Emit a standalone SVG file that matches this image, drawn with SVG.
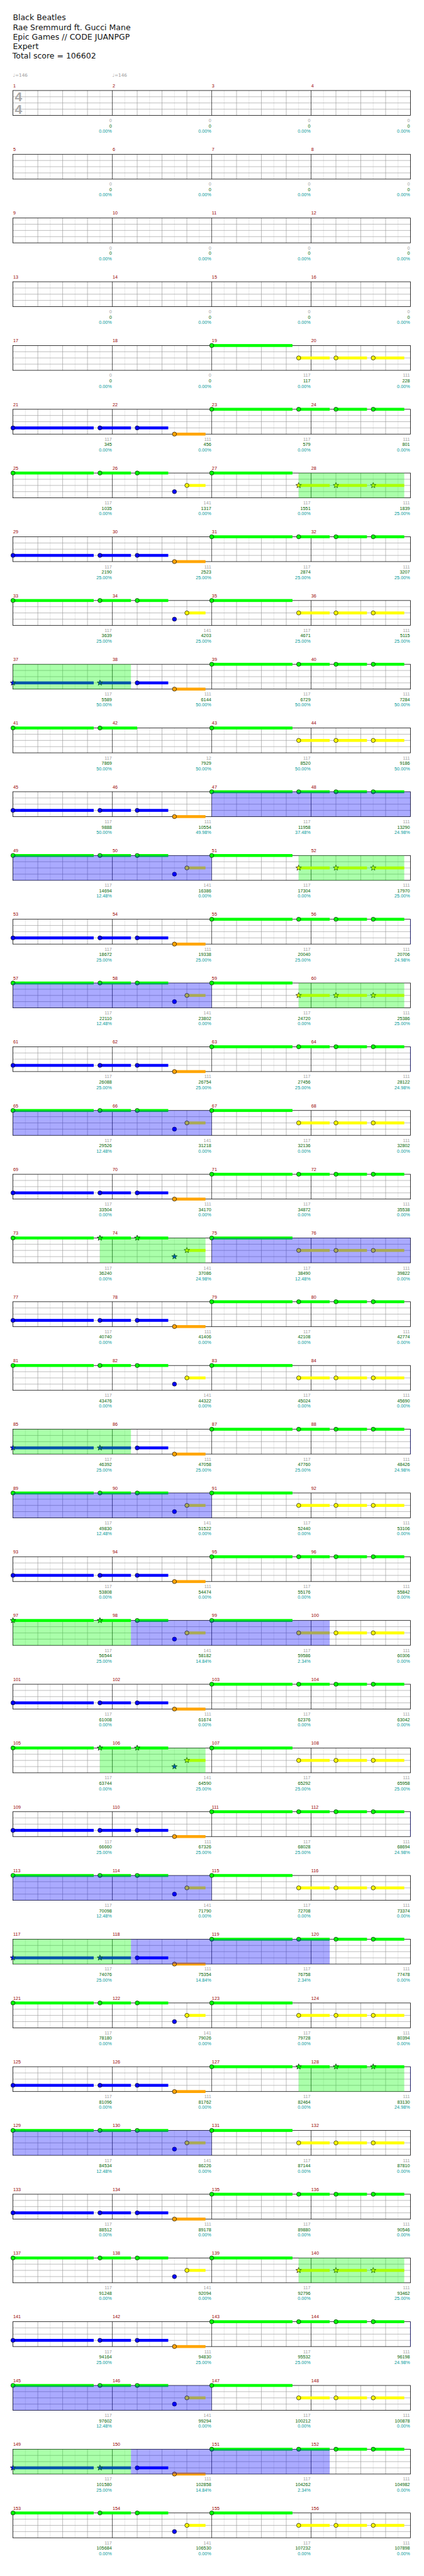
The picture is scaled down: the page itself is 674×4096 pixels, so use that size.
<svg xmlns="http://www.w3.org/2000/svg" width="674" height="4096" viewBox="0 0 674 4096">
<style>
text{font-family:"Liberation Sans",Arial,sans-serif}
.hd{font-family:"DejaVu Sans",Verdana,sans-serif;font-size:19px;fill:#111}
.mn{font-size:11px;fill:#990000}
.tp{font-family:"DejaVu Sans",sans-serif;font-size:11px;fill:#999}
.s1,.s2,.s3{font-size:11px;text-anchor:end}
.s1{fill:#a0a0a0}.s2{fill:#006400}.s3{fill:#009999}
.ts{font-size:32px;font-weight:bold;fill:#aaa}
.off{stroke:#ddd;stroke-width:1;fill:none}
.bt{stroke:#999;stroke-width:1;fill:none}
.br{stroke:#000;stroke-width:1;fill:none}
.box{fill:none;stroke:#000;stroke-width:1.2}
.g{fill:#00ff00}.y{fill:#ffff00}.b{fill:#0000ff}.o{fill:#ffa500}
circle,.st{stroke:#000;stroke-width:1}
.sp{fill:#00ff00;fill-opacity:.333}
.act{fill:#0000ff;fill-opacity:.333}
</style>
<defs>
<path id="star" d="M0,-7L1.76,-2.43L6.66,-2.16L2.85,0.93L4.11,5.66L0,3L-4.11,5.66L-2.85,0.93L-6.66,-2.16L-1.76,-2.43Z"/>
<g id="staff">
<path class="off" d="M30,0v60M90,0v60M150,0v60M210,0v60M270,0v60M330,0v60M390,0v60M450,0v60M510,0v60M570,0v60M630,0v60M690,0v60M750,0v60M810,0v60M870,0v60M930,0v60"/>
<path class="bt" d="M0,15h960M0,30h960M0,45h960M60,0v60M120,0v60M180,0v60M300,0v60M360,0v60M420,0v60M540,0v60M600,0v60M660,0v60M780,0v60M840,0v60M900,0v60"/>
<path class="br" d="M240,0v60M480,0v60M720,0v60"/>
<rect class="box" x="0" y="0" width="960" height="60"/>
</g>
<g id="zeros">
<text class="s1"><tspan x="238.7" y="76">0</tspan><tspan x="478.7">0</tspan><tspan x="718.7">0</tspan><tspan x="958.7">0</tspan></text>
<text class="s2"><tspan x="238.7" y="89">0</tspan><tspan x="478.7">0</tspan><tspan x="718.7">0</tspan><tspan x="958.7">0</tspan></text>
<text class="s3"><tspan x="238.7" y="102">0.00%</tspan><tspan x="478.7">0.00%</tspan><tspan x="718.7">0.00%</tspan><tspan x="958.7">0.00%</tspan></text>
</g>
<text id="gA" class="s1"><tspan x="238.7" y="76">117</tspan><tspan x="478.7">141</tspan><tspan x="718.7">117</tspan><tspan x="958.7">111</tspan></text>
<text id="gB" class="s1"><tspan x="238.7" y="76">117</tspan><tspan x="478.7">111</tspan><tspan x="718.7">117</tspan><tspan x="958.7">111</tspan></text>
<text id="pz" class="s3"><tspan x="238.7" y="102">0.00%</tspan><tspan x="478.7">0.00%</tspan><tspan x="718.7">0.00%</tspan><tspan x="958.7">0.00%</tspan></text>
<g id="pGGGG"><rect class="g" y="-3.5" width="195" height="7"/><circle class="g" r="5"/><rect class="g" x="210" y="-3.5" width="75" height="7"/><circle class="g" cx="210" r="5"/><rect class="g" x="300" y="-3.5" width="75" height="7"/><circle class="g" cx="300" r="5"/><rect class="g" x="390" y="-3.5" width="75" height="7"/><circle class="g" cx="390" r="5"/></g>
<g id="pGGGGs"><rect class="g" y="-3.5" width="195" height="7"/><circle class="g" r="5"/><rect class="g" x="210" y="-3.5" width="75" height="7"/><use href="#star" class="g st" x="210"/><rect class="g" x="300" y="-3.5" width="75" height="7"/><use href="#star" class="g st" x="300"/><rect class="g" x="390" y="-3.5" width="75" height="7"/><use href="#star" class="g st" x="390"/></g>
<g id="pGYYY"><rect class="g" y="-3.5" width="195" height="7"/><circle class="g" r="5"/><rect class="y" x="210" y="26.5" width="75" height="7"/><circle class="y" cx="210" cy="30" r="5"/><rect class="y" x="300" y="26.5" width="75" height="7"/><circle class="y" cx="300" cy="30" r="5"/><rect class="y" x="390" y="26.5" width="75" height="7"/><circle class="y" cx="390" cy="30" r="5"/></g>
<g id="pBBBO"><rect class="b" y="41.5" width="195" height="7"/><circle class="b" cy="45" r="5"/><rect class="b" x="210" y="41.5" width="75" height="7"/><circle class="b" cx="210" cy="45" r="5"/><rect class="b" x="300" y="41.5" width="75" height="7"/><circle class="b" cx="300" cy="45" r="5"/><rect class="o" x="390" y="56.5" width="75" height="7"/><circle class="o" cx="390" cy="60" r="5"/></g>
<g id="pGGGBY"><rect class="g" y="-3.5" width="195" height="7"/><circle class="g" r="5"/><rect class="g" x="210" y="-3.5" width="75" height="7"/><circle class="g" cx="210" r="5"/><rect class="g" x="300" y="-3.5" width="75" height="7"/><circle class="g" cx="300" r="5"/><circle class="b" cx="390" cy="45" r="5"/><rect class="y" x="420" y="26.5" width="45" height="7"/><circle class="y" cx="420" cy="30" r="5"/></g>
<g id="pGGGBYs2"><rect class="g" y="-3.5" width="195" height="7"/><use href="#star" class="g st"/><rect class="g" x="210" y="-3.5" width="75" height="7"/><use href="#star" class="g st" x="210"/><rect class="g" x="300" y="-3.5" width="75" height="7"/><circle class="g" cx="300" r="5"/><circle class="b" cx="390" cy="45" r="5"/><rect class="y" x="420" y="26.5" width="45" height="7"/><circle class="y" cx="420" cy="30" r="5"/></g>
<g id="pGYYYs"><rect class="g" y="-3.5" width="195" height="7"/><circle class="g" r="5"/><rect class="y" x="210" y="26.5" width="75" height="7"/><use href="#star" class="y st" x="210" y="30"/><rect class="y" x="300" y="26.5" width="75" height="7"/><use href="#star" class="y st" x="300" y="30"/><rect class="y" x="390" y="26.5" width="75" height="7"/><use href="#star" class="y st" x="390" y="30"/></g>
<g id="pBBBOs"><rect class="b" y="41.5" width="195" height="7"/><use href="#star" class="b st" y="45"/><rect class="b" x="210" y="41.5" width="75" height="7"/><use href="#star" class="b st" x="210" y="45"/><rect class="b" x="300" y="41.5" width="75" height="7"/><circle class="b" cx="300" cy="45" r="5"/><rect class="o" x="390" y="56.5" width="75" height="7"/><circle class="o" cx="390" cy="60" r="5"/></g>
<g id="pGG"><rect class="g" y="-3.5" width="195" height="7"/><circle class="g" r="5"/><rect class="g" x="210" y="-3.5" width="90" height="7"/><circle class="g" cx="210" r="5"/></g>
<g id="pGGGBYs"><rect class="g" y="-3.5" width="195" height="7"/><circle class="g" r="5"/><rect class="g" x="210" y="-3.5" width="75" height="7"/><use href="#star" class="g st" x="210"/><rect class="g" x="300" y="-3.5" width="75" height="7"/><use href="#star" class="g st" x="300"/><use href="#star" class="b st" x="390" y="45"/><rect class="y" x="420" y="26.5" width="45" height="7"/><use href="#star" class="y st" x="420" y="30"/></g>
</defs>
<g transform="scale(0.658203)">
<g id="header">
<text class="hd" x="31" y="49.3">Black Beatles</text>
<text class="hd" x="31" y="72.3">Rae Sremmurd ft.  Gucci Mane</text>
<text class="hd" x="31" y="95.3">Epic Games // CODE JUANPGP</text>
<text class="hd" x="31" y="118.3">Expert</text>
<text class="hd" x="30" y="141.3">Total score = 106602</text>
</g>
<g id="row1" transform="translate(31.3,218.7)"><use href="#staff"/>
<text class="ts" x="4.4" y="26.3">4</text><text class="ts" x="4.4" y="56.3">4</text>
<text class="tp"><tspan x="0" y="-33.5">♩=146</tspan><tspan x="240">♩=146</tspan></text>
<text class="mn"><tspan x="0.5" y="-8">1</tspan><tspan x="240.5">2</tspan><tspan x="480.5">3</tspan><tspan x="720.5">4</tspan></text><use href="#zeros"/></g>
<g id="row2" transform="translate(31.3,372.7)"><use href="#staff"/><text class="mn"><tspan x="0.5" y="-8">5</tspan><tspan x="240.5">6</tspan><tspan x="480.5">7</tspan><tspan x="720.5">8</tspan></text><use href="#zeros"/></g>
<g id="row3" transform="translate(31.3,526.7)"><use href="#staff"/><text class="mn"><tspan x="0.5" y="-8">9</tspan><tspan x="240.5">10</tspan><tspan x="480.5">11</tspan><tspan x="720.5">12</tspan></text><use href="#zeros"/></g>
<g id="row4" transform="translate(31.3,680.7)"><use href="#staff"/><text class="mn"><tspan x="0.5" y="-8">13</tspan><tspan x="240.5">14</tspan><tspan x="480.5">15</tspan><tspan x="720.5">16</tspan></text><use href="#zeros"/></g>
<g id="row5" transform="translate(31.3,834.7)"><use href="#staff"/><use href="#pGYYY" x="480"/>
<text class="mn"><tspan x="0.5" y="-8">17</tspan><tspan x="240.5">18</tspan><tspan x="480.5">19</tspan><tspan x="720.5">20</tspan></text>
<text class="s1"><tspan x="238.7" y="76">0</tspan><tspan x="478.7">0</tspan><tspan x="718.7">117</tspan><tspan x="958.7">111</tspan></text>
<text class="s2"><tspan x="238.7" y="89">0</tspan><tspan x="478.7">0</tspan><tspan x="718.7">117</tspan><tspan x="958.7">228</tspan></text>
<use href="#pz"/></g>
<g id="row6" transform="translate(31.3,988.7)"><use href="#staff"/><use href="#pBBBO"/><use href="#pGGGG" x="480"/>
<text class="mn"><tspan x="0.5" y="-8">21</tspan><tspan x="240.5">22</tspan><tspan x="480.5">23</tspan><tspan x="720.5">24</tspan></text><use href="#gB"/>
<text class="s2"><tspan x="238.7" y="89">345</tspan><tspan x="478.7">456</tspan><tspan x="718.7">579</tspan><tspan x="958.7">801</tspan></text><use href="#pz"/></g>
<g id="row7" transform="translate(31.3,1142.7)"><use href="#staff"/><use href="#pGGGBY"/><use href="#pGYYYs" x="480"/><rect class="sp" x="690" width="255" height="60"/>
<text class="mn"><tspan x="0.5" y="-8">25</tspan><tspan x="240.5">26</tspan><tspan x="480.5">27</tspan><tspan x="720.5">28</tspan></text><use href="#gA"/>
<text class="s2"><tspan x="238.7" y="89">1035</tspan><tspan x="478.7">1317</tspan><tspan x="718.7">1551</tspan><tspan x="958.7">1839</tspan></text>
<text class="s3"><tspan x="238.7" y="102">0.00%</tspan><tspan x="478.7">0.00%</tspan><tspan x="718.7">0.00%</tspan><tspan x="958.7">25.00%</tspan></text></g>
<g id="row8" transform="translate(31.3,1296.7)"><use href="#staff"/><use href="#pBBBO"/><use href="#pGGGG" x="480"/>
<text class="mn"><tspan x="0.5" y="-8">29</tspan><tspan x="240.5">30</tspan><tspan x="480.5">31</tspan><tspan x="720.5">32</tspan></text><use href="#gB"/>
<text class="s2"><tspan x="238.7" y="89">2190</tspan><tspan x="478.7">2523</tspan><tspan x="718.7">2874</tspan><tspan x="958.7">3207</tspan></text>
<text class="s3"><tspan x="238.7" y="102">25.00%</tspan><tspan x="478.7">25.00%</tspan><tspan x="718.7">25.00%</tspan><tspan x="958.7">25.00%</tspan></text></g>
<g id="row9" transform="translate(31.3,1450.7)"><use href="#staff"/><use href="#pGGGBY"/><use href="#pGYYY" x="480"/>
<text class="mn"><tspan x="0.5" y="-8">33</tspan><tspan x="240.5">34</tspan><tspan x="480.5">35</tspan><tspan x="720.5">36</tspan></text><use href="#gA"/>
<text class="s2"><tspan x="238.7" y="89">3639</tspan><tspan x="478.7">4203</tspan><tspan x="718.7">4671</tspan><tspan x="958.7">5115</tspan></text>
<text class="s3"><tspan x="238.7" y="102">25.00%</tspan><tspan x="478.7">25.00%</tspan><tspan x="718.7">25.00%</tspan><tspan x="958.7">25.00%</tspan></text></g>
<g id="row10" transform="translate(31.3,1604.7)"><use href="#staff"/><use href="#pBBBOs"/><rect class="sp" width="285" height="60"/><use href="#pGGGG" x="480"/>
<text class="mn"><tspan x="0.5" y="-8">37</tspan><tspan x="240.5">38</tspan><tspan x="480.5">39</tspan><tspan x="720.5">40</tspan></text><use href="#gB"/>
<text class="s2"><tspan x="238.7" y="89">5589</tspan><tspan x="478.7">6144</tspan><tspan x="718.7">6729</tspan><tspan x="958.7">7284</tspan></text>
<text class="s3"><tspan x="238.7" y="102">50.00%</tspan><tspan x="478.7">50.00%</tspan><tspan x="718.7">50.00%</tspan><tspan x="958.7">50.00%</tspan></text></g>
<g id="row11" transform="translate(31.3,1758.7)"><use href="#staff"/><use href="#pGG"/><use href="#pGYYY" x="480"/>
<text class="mn"><tspan x="0.5" y="-8">41</tspan><tspan x="240.5">42</tspan><tspan x="480.5">43</tspan><tspan x="720.5">44</tspan></text>
<text class="s1"><tspan x="238.7" y="76">117</tspan><tspan x="478.7">12</tspan><tspan x="718.7">117</tspan><tspan x="958.7">111</tspan></text>
<text class="s2"><tspan x="238.7" y="89">7869</tspan><tspan x="478.7">7929</tspan><tspan x="718.7">8520</tspan><tspan x="958.7">9186</tspan></text>
<text class="s3"><tspan x="238.7" y="102">50.00%</tspan><tspan x="478.7">50.00%</tspan><tspan x="718.7">50.00%</tspan><tspan x="958.7">50.00%</tspan></text></g>
<g id="row12" transform="translate(31.3,1912.7)"><use href="#staff"/><use href="#pBBBO"/><use href="#pGGGG" x="480"/><rect class="act" x="480" width="480" height="60"/>
<text class="mn"><tspan x="0.5" y="-8">45</tspan><tspan x="240.5">46</tspan><tspan x="480.5">47</tspan><tspan x="720.5">48</tspan></text><use href="#gB"/>
<text class="s2"><tspan x="238.7" y="89">9888</tspan><tspan x="478.7">10554</tspan><tspan x="718.7">11958</tspan><tspan x="958.7">13290</tspan></text>
<text class="s3"><tspan x="238.7" y="102">50.00%</tspan><tspan x="478.7">49.98%</tspan><tspan x="718.7">37.48%</tspan><tspan x="958.7">24.98%</tspan></text></g>
<g id="row13" transform="translate(31.3,2066.7)"><use href="#staff"/><use href="#pGGGBY"/><rect class="act" width="480" height="60"/><use href="#pGYYYs" x="480"/><rect class="sp" x="690" width="255" height="60"/>
<text class="mn"><tspan x="0.5" y="-8">49</tspan><tspan x="240.5">50</tspan><tspan x="480.5">51</tspan><tspan x="720.5">52</tspan></text><use href="#gA"/>
<text class="s2"><tspan x="238.7" y="89">14694</tspan><tspan x="478.7">16386</tspan><tspan x="718.7">17304</tspan><tspan x="958.7">17970</tspan></text>
<text class="s3"><tspan x="238.7" y="102">12.48%</tspan><tspan x="478.7">0.00%</tspan><tspan x="718.7">0.00%</tspan><tspan x="958.7">25.00%</tspan></text></g>
<g id="row14" transform="translate(31.3,2220.7)"><use href="#staff"/><use href="#pBBBO"/><use href="#pGGGG" x="480"/><rect class="act" x="959" width="1.5" height="60"/>
<text class="mn"><tspan x="0.5" y="-8">53</tspan><tspan x="240.5">54</tspan><tspan x="480.5">55</tspan><tspan x="720.5">56</tspan></text><use href="#gB"/>
<text class="s2"><tspan x="238.7" y="89">18672</tspan><tspan x="478.7">19338</tspan><tspan x="718.7">20040</tspan><tspan x="958.7">20706</tspan></text>
<text class="s3"><tspan x="238.7" y="102">25.00%</tspan><tspan x="478.7">25.00%</tspan><tspan x="718.7">25.00%</tspan><tspan x="958.7">24.98%</tspan></text></g>
<g id="row15" transform="translate(31.3,2374.7)"><use href="#staff"/><use href="#pGGGBY"/><rect class="act" width="480" height="60"/><use href="#pGYYYs" x="480"/><rect class="sp" x="690" width="255" height="60"/>
<text class="mn"><tspan x="0.5" y="-8">57</tspan><tspan x="240.5">58</tspan><tspan x="480.5">59</tspan><tspan x="720.5">60</tspan></text><use href="#gA"/>
<text class="s2"><tspan x="238.7" y="89">22110</tspan><tspan x="478.7">23802</tspan><tspan x="718.7">24720</tspan><tspan x="958.7">25386</tspan></text>
<text class="s3"><tspan x="238.7" y="102">12.48%</tspan><tspan x="478.7">0.00%</tspan><tspan x="718.7">0.00%</tspan><tspan x="958.7">25.00%</tspan></text></g>
<g id="row16" transform="translate(31.3,2528.7)"><use href="#staff"/><use href="#pBBBO"/><use href="#pGGGG" x="480"/><rect class="act" x="959" width="1.5" height="60"/>
<text class="mn"><tspan x="0.5" y="-8">61</tspan><tspan x="240.5">62</tspan><tspan x="480.5">63</tspan><tspan x="720.5">64</tspan></text><use href="#gB"/>
<text class="s2"><tspan x="238.7" y="89">26088</tspan><tspan x="478.7">26754</tspan><tspan x="718.7">27456</tspan><tspan x="958.7">28122</tspan></text>
<text class="s3"><tspan x="238.7" y="102">25.00%</tspan><tspan x="478.7">25.00%</tspan><tspan x="718.7">25.00%</tspan><tspan x="958.7">24.98%</tspan></text></g>
<g id="row17" transform="translate(31.3,2682.7)"><use href="#staff"/><use href="#pGGGBY"/><rect class="act" width="480" height="60"/><use href="#pGYYY" x="480"/>
<text class="mn"><tspan x="0.5" y="-8">65</tspan><tspan x="240.5">66</tspan><tspan x="480.5">67</tspan><tspan x="720.5">68</tspan></text><use href="#gA"/>
<text class="s2"><tspan x="238.7" y="89">29526</tspan><tspan x="478.7">31218</tspan><tspan x="718.7">32136</tspan><tspan x="958.7">32802</tspan></text>
<text class="s3"><tspan x="238.7" y="102">12.48%</tspan><tspan x="478.7">0.00%</tspan><tspan x="718.7">0.00%</tspan><tspan x="958.7">0.00%</tspan></text></g>
<g id="row18" transform="translate(31.3,2836.7)"><use href="#staff"/><use href="#pBBBO"/><use href="#pGGGG" x="480"/>
<text class="mn"><tspan x="0.5" y="-8">69</tspan><tspan x="240.5">70</tspan><tspan x="480.5">71</tspan><tspan x="720.5">72</tspan></text><use href="#gB"/>
<text class="s2"><tspan x="238.7" y="89">33504</tspan><tspan x="478.7">34170</tspan><tspan x="718.7">34872</tspan><tspan x="958.7">35538</tspan></text><use href="#pz"/></g>
<g id="row19" transform="translate(31.3,2990.7)"><use href="#staff"/><use href="#pGGGBYs"/><rect class="sp" x="210" width="255" height="60"/><use href="#pGYYY" x="480"/><rect class="act" x="480" width="480" height="60"/>
<text class="mn"><tspan x="0.5" y="-8">73</tspan><tspan x="240.5">74</tspan><tspan x="480.5">75</tspan><tspan x="720.5">76</tspan></text><use href="#gA"/>
<text class="s2"><tspan x="238.7" y="89">36240</tspan><tspan x="478.7">37086</tspan><tspan x="718.7">38490</tspan><tspan x="958.7">39822</tspan></text>
<text class="s3"><tspan x="238.7" y="102">0.00%</tspan><tspan x="478.7">24.98%</tspan><tspan x="718.7">12.48%</tspan><tspan x="958.7">0.00%</tspan></text></g>
<g id="row20" transform="translate(31.3,3144.7)"><use href="#staff"/><use href="#pBBBO"/><use href="#pGGGG" x="480"/>
<text class="mn"><tspan x="0.5" y="-8">77</tspan><tspan x="240.5">78</tspan><tspan x="480.5">79</tspan><tspan x="720.5">80</tspan></text><use href="#gB"/>
<text class="s2"><tspan x="238.7" y="89">40740</tspan><tspan x="478.7">41406</tspan><tspan x="718.7">42108</tspan><tspan x="958.7">42774</tspan></text><use href="#pz"/></g>
<g id="row21" transform="translate(31.3,3298.7)"><use href="#staff"/><use href="#pGGGBY"/><use href="#pGYYY" x="480"/>
<text class="mn"><tspan x="0.5" y="-8">81</tspan><tspan x="240.5">82</tspan><tspan x="480.5">83</tspan><tspan x="720.5">84</tspan></text><use href="#gA"/>
<text class="s2"><tspan x="238.7" y="89">43476</tspan><tspan x="478.7">44322</tspan><tspan x="718.7">45024</tspan><tspan x="958.7">45690</tspan></text><use href="#pz"/></g>
<g id="row22" transform="translate(31.3,3452.7)"><use href="#staff"/><use href="#pBBBOs"/><rect class="sp" width="285" height="60"/><use href="#pGGGG" x="480"/><rect class="act" x="959" width="1.5" height="60"/>
<text class="mn"><tspan x="0.5" y="-8">85</tspan><tspan x="240.5">86</tspan><tspan x="480.5">87</tspan><tspan x="720.5">88</tspan></text><use href="#gB"/>
<text class="s2"><tspan x="238.7" y="89">46392</tspan><tspan x="478.7">47058</tspan><tspan x="718.7">47760</tspan><tspan x="958.7">48426</tspan></text>
<text class="s3"><tspan x="238.7" y="102">25.00%</tspan><tspan x="478.7">25.00%</tspan><tspan x="718.7">25.00%</tspan><tspan x="958.7">24.98%</tspan></text></g>
<g id="row23" transform="translate(31.3,3606.7)"><use href="#staff"/><use href="#pGGGBY"/><rect class="act" width="480" height="60"/><use href="#pGYYY" x="480"/>
<text class="mn"><tspan x="0.5" y="-8">89</tspan><tspan x="240.5">90</tspan><tspan x="480.5">91</tspan><tspan x="720.5">92</tspan></text><use href="#gA"/>
<text class="s2"><tspan x="238.7" y="89">49830</tspan><tspan x="478.7">51522</tspan><tspan x="718.7">52440</tspan><tspan x="958.7">53106</tspan></text>
<text class="s3"><tspan x="238.7" y="102">12.48%</tspan><tspan x="478.7">0.00%</tspan><tspan x="718.7">0.00%</tspan><tspan x="958.7">0.00%</tspan></text></g>
<g id="row24" transform="translate(31.3,3760.7)"><use href="#staff"/><use href="#pBBBO"/><use href="#pGGGG" x="480"/>
<text class="mn"><tspan x="0.5" y="-8">93</tspan><tspan x="240.5">94</tspan><tspan x="480.5">95</tspan><tspan x="720.5">96</tspan></text><use href="#gB"/>
<text class="s2"><tspan x="238.7" y="89">53808</tspan><tspan x="478.7">54474</tspan><tspan x="718.7">55176</tspan><tspan x="958.7">55842</tspan></text><use href="#pz"/></g>
<g id="row25" transform="translate(31.3,3914.7)"><use href="#staff"/><use href="#pGGGBYs2"/><rect class="sp" width="285" height="60"/><use href="#pGYYY" x="480"/><rect class="act" x="285" width="480" height="60"/>
<text class="mn"><tspan x="0.5" y="-8">97</tspan><tspan x="240.5">98</tspan><tspan x="480.5">99</tspan><tspan x="720.5">100</tspan></text><use href="#gA"/>
<text class="s2"><tspan x="238.7" y="89">56544</tspan><tspan x="478.7">58182</tspan><tspan x="718.7">59586</tspan><tspan x="958.7">60306</tspan></text>
<text class="s3"><tspan x="238.7" y="102">25.00%</tspan><tspan x="478.7">14.84%</tspan><tspan x="718.7">2.34%</tspan><tspan x="958.7">0.00%</tspan></text></g>
<g id="row26" transform="translate(31.3,4068.7)"><use href="#staff"/><use href="#pBBBO"/><use href="#pGGGG" x="480"/>
<text class="mn"><tspan x="0.5" y="-8">101</tspan><tspan x="240.5">102</tspan><tspan x="480.5">103</tspan><tspan x="720.5">104</tspan></text><use href="#gB"/>
<text class="s2"><tspan x="238.7" y="89">61008</tspan><tspan x="478.7">61674</tspan><tspan x="718.7">62376</tspan><tspan x="958.7">63042</tspan></text><use href="#pz"/></g>
<g id="row27" transform="translate(31.3,4222.7)"><use href="#staff"/><use href="#pGGGBYs"/><rect class="sp" x="210" width="255" height="60"/><use href="#pGYYY" x="480"/>
<text class="mn"><tspan x="0.5" y="-8">105</tspan><tspan x="240.5">106</tspan><tspan x="480.5">107</tspan><tspan x="720.5">108</tspan></text><use href="#gA"/>
<text class="s2"><tspan x="238.7" y="89">63744</tspan><tspan x="478.7">64590</tspan><tspan x="718.7">65292</tspan><tspan x="958.7">65958</tspan></text>
<text class="s3"><tspan x="238.7" y="102">0.00%</tspan><tspan x="478.7">25.00%</tspan><tspan x="718.7">25.00%</tspan><tspan x="958.7">25.00%</tspan></text></g>
<g id="row28" transform="translate(31.3,4376.7)"><use href="#staff"/><use href="#pBBBO"/><use href="#pGGGG" x="480"/><rect class="act" x="959" width="1.5" height="60"/>
<text class="mn"><tspan x="0.5" y="-8">109</tspan><tspan x="240.5">110</tspan><tspan x="480.5">111</tspan><tspan x="720.5">112</tspan></text><use href="#gB"/>
<text class="s2"><tspan x="238.7" y="89">66660</tspan><tspan x="478.7">67326</tspan><tspan x="718.7">68028</tspan><tspan x="958.7">68694</tspan></text>
<text class="s3"><tspan x="238.7" y="102">25.00%</tspan><tspan x="478.7">25.00%</tspan><tspan x="718.7">25.00%</tspan><tspan x="958.7">24.98%</tspan></text></g>
<g id="row29" transform="translate(31.3,4530.7)"><use href="#staff"/><use href="#pGGGBY"/><rect class="act" width="480" height="60"/><use href="#pGYYY" x="480"/>
<text class="mn"><tspan x="0.5" y="-8">113</tspan><tspan x="240.5">114</tspan><tspan x="480.5">115</tspan><tspan x="720.5">116</tspan></text><use href="#gA"/>
<text class="s2"><tspan x="238.7" y="89">70098</tspan><tspan x="478.7">71790</tspan><tspan x="718.7">72708</tspan><tspan x="958.7">73374</tspan></text>
<text class="s3"><tspan x="238.7" y="102">12.48%</tspan><tspan x="478.7">0.00%</tspan><tspan x="718.7">0.00%</tspan><tspan x="958.7">0.00%</tspan></text></g>
<g id="row30" transform="translate(31.3,4684.7)"><use href="#staff"/><use href="#pBBBOs"/><rect class="sp" width="285" height="60"/><use href="#pGGGG" x="480"/><rect class="act" x="285" width="480" height="60"/>
<text class="mn"><tspan x="0.5" y="-8">117</tspan><tspan x="240.5">118</tspan><tspan x="480.5">119</tspan><tspan x="720.5">120</tspan></text><use href="#gB"/>
<text class="s2"><tspan x="238.7" y="89">74076</tspan><tspan x="478.7">75354</tspan><tspan x="718.7">76758</tspan><tspan x="958.7">77478</tspan></text>
<text class="s3"><tspan x="238.7" y="102">25.00%</tspan><tspan x="478.7">14.84%</tspan><tspan x="718.7">2.34%</tspan><tspan x="958.7">0.00%</tspan></text></g>
<g id="row31" transform="translate(31.3,4838.7)"><use href="#staff"/><use href="#pGGGBY"/><use href="#pGYYY" x="480"/>
<text class="mn"><tspan x="0.5" y="-8">121</tspan><tspan x="240.5">122</tspan><tspan x="480.5">123</tspan><tspan x="720.5">124</tspan></text><use href="#gA"/>
<text class="s2"><tspan x="238.7" y="89">78180</tspan><tspan x="478.7">79026</tspan><tspan x="718.7">79728</tspan><tspan x="958.7">80394</tspan></text><use href="#pz"/></g>
<g id="row32" transform="translate(31.3,4992.7)"><use href="#staff"/><use href="#pBBBO"/><use href="#pGGGGs" x="480"/><rect class="sp" x="690" width="255" height="60"/><rect class="act" x="959" width="1.5" height="60"/>
<text class="mn"><tspan x="0.5" y="-8">125</tspan><tspan x="240.5">126</tspan><tspan x="480.5">127</tspan><tspan x="720.5">128</tspan></text><use href="#gB"/>
<text class="s2"><tspan x="238.7" y="89">81096</tspan><tspan x="478.7">81762</tspan><tspan x="718.7">82464</tspan><tspan x="958.7">83130</tspan></text>
<text class="s3"><tspan x="238.7" y="102">0.00%</tspan><tspan x="478.7">0.00%</tspan><tspan x="718.7">0.00%</tspan><tspan x="958.7">24.98%</tspan></text></g>
<g id="row33" transform="translate(31.3,5146.7)"><use href="#staff"/><use href="#pGGGBY"/><rect class="act" width="480" height="60"/><use href="#pGYYY" x="480"/>
<text class="mn"><tspan x="0.5" y="-8">129</tspan><tspan x="240.5">130</tspan><tspan x="480.5">131</tspan><tspan x="720.5">132</tspan></text><use href="#gA"/>
<text class="s2"><tspan x="238.7" y="89">84534</tspan><tspan x="478.7">86226</tspan><tspan x="718.7">87144</tspan><tspan x="958.7">87810</tspan></text>
<text class="s3"><tspan x="238.7" y="102">12.48%</tspan><tspan x="478.7">0.00%</tspan><tspan x="718.7">0.00%</tspan><tspan x="958.7">0.00%</tspan></text></g>
<g id="row34" transform="translate(31.3,5300.7)"><use href="#staff"/><use href="#pBBBO"/><use href="#pGGGG" x="480"/>
<text class="mn"><tspan x="0.5" y="-8">133</tspan><tspan x="240.5">134</tspan><tspan x="480.5">135</tspan><tspan x="720.5">136</tspan></text><use href="#gB"/>
<text class="s2"><tspan x="238.7" y="89">88512</tspan><tspan x="478.7">89178</tspan><tspan x="718.7">89880</tspan><tspan x="958.7">90546</tspan></text><use href="#pz"/></g>
<g id="row35" transform="translate(31.3,5454.7)"><use href="#staff"/><use href="#pGGGBY"/><use href="#pGYYYs" x="480"/><rect class="sp" x="690" width="255" height="60"/>
<text class="mn"><tspan x="0.5" y="-8">137</tspan><tspan x="240.5">138</tspan><tspan x="480.5">139</tspan><tspan x="720.5">140</tspan></text><use href="#gA"/>
<text class="s2"><tspan x="238.7" y="89">91248</tspan><tspan x="478.7">92094</tspan><tspan x="718.7">92796</tspan><tspan x="958.7">93462</tspan></text>
<text class="s3"><tspan x="238.7" y="102">0.00%</tspan><tspan x="478.7">0.00%</tspan><tspan x="718.7">0.00%</tspan><tspan x="958.7">25.00%</tspan></text></g>
<g id="row36" transform="translate(31.3,5608.7)"><use href="#staff"/><use href="#pBBBO"/><use href="#pGGGG" x="480"/><rect class="act" x="959" width="1.5" height="60"/>
<text class="mn"><tspan x="0.5" y="-8">141</tspan><tspan x="240.5">142</tspan><tspan x="480.5">143</tspan><tspan x="720.5">144</tspan></text><use href="#gB"/>
<text class="s2"><tspan x="238.7" y="89">94164</tspan><tspan x="478.7">94830</tspan><tspan x="718.7">95532</tspan><tspan x="958.7">96198</tspan></text>
<text class="s3"><tspan x="238.7" y="102">25.00%</tspan><tspan x="478.7">25.00%</tspan><tspan x="718.7">25.00%</tspan><tspan x="958.7">24.98%</tspan></text></g>
<g id="row37" transform="translate(31.3,5762.7)"><use href="#staff"/><use href="#pGGGBY"/><rect class="act" width="480" height="60"/><use href="#pGYYY" x="480"/>
<text class="mn"><tspan x="0.5" y="-8">145</tspan><tspan x="240.5">146</tspan><tspan x="480.5">147</tspan><tspan x="720.5">148</tspan></text><use href="#gA"/>
<text class="s2"><tspan x="238.7" y="89">97602</tspan><tspan x="478.7">99294</tspan><tspan x="718.7">100212</tspan><tspan x="958.7">100878</tspan></text>
<text class="s3"><tspan x="238.7" y="102">12.48%</tspan><tspan x="478.7">0.00%</tspan><tspan x="718.7">0.00%</tspan><tspan x="958.7">0.00%</tspan></text></g>
<g id="row38" transform="translate(31.3,5916.7)"><use href="#staff"/><use href="#pBBBOs"/><rect class="sp" width="285" height="60"/><use href="#pGGGG" x="480"/><rect class="act" x="285" width="480" height="60"/>
<text class="mn"><tspan x="0.5" y="-8">149</tspan><tspan x="240.5">150</tspan><tspan x="480.5">151</tspan><tspan x="720.5">152</tspan></text><use href="#gB"/>
<text class="s2"><tspan x="238.7" y="89">101580</tspan><tspan x="478.7">102858</tspan><tspan x="718.7">104262</tspan><tspan x="958.7">104982</tspan></text>
<text class="s3"><tspan x="238.7" y="102">25.00%</tspan><tspan x="478.7">14.84%</tspan><tspan x="718.7">2.34%</tspan><tspan x="958.7">0.00%</tspan></text></g>
<g id="row39" transform="translate(31.3,6070.7)"><use href="#staff"/><use href="#pGGGBY"/><use href="#pGYYY" x="480"/>
<text class="mn"><tspan x="0.5" y="-8">153</tspan><tspan x="240.5">154</tspan><tspan x="480.5">155</tspan><tspan x="720.5">156</tspan></text><use href="#gA"/>
<text class="s2"><tspan x="238.7" y="89">105684</tspan><tspan x="478.7">106530</tspan><tspan x="718.7">107232</tspan><tspan x="958.7">107898</tspan></text><use href="#pz"/></g>
</g>
</svg>
